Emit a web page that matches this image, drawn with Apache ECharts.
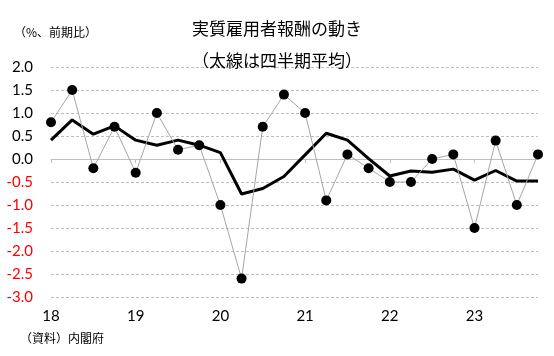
<!DOCTYPE html>
<html><head><meta charset="utf-8">
<script src="https://cdn.jsdelivr.net/npm/echarts@6/dist/echarts.min.js"></script>
<style>html,body{margin:0;padding:0;background:#fff}#c{width:554px;height:356px}</style>
</head><body><div id="c"></div>
<script>
var quarters = ['18Q1','18Q2','18Q3','18Q4','19Q1','19Q2','19Q3','19Q4','20Q1','20Q2','20Q3','20Q4','21Q1','21Q2','21Q3','21Q4','22Q1','22Q2','22Q3','22Q4','23Q1','23Q2','23Q3','23Q4'];
var quarterly = [0.8,1.5,-0.2,0.7,-0.3,1.0,0.2,0.3,-1.0,-2.6,0.7,1.4,1.0,-0.9,0.1,-0.2,-0.5,-0.5,0.0,0.1,-1.5,0.4,-1.0,0.1];
var average = [0.41,0.85,0.54,0.72,0.41,0.30,0.41,0.30,0.14,-0.76,-0.64,-0.38,0.09,0.56,0.41,0.01,-0.37,-0.26,-0.29,-0.22,-0.46,-0.25,-0.48,-0.48];
var yTicks = {min:-3, max:2, interval:0.5};
var titleText = '実質雇用者報酬の動き\n（太線は四半期平均）';
var unitText = '（%、前期比）';
var sourceText = '（資料）内閣府';

var chart = echarts.init(document.getElementById('c'));
var numFont = 'Lato, "Liberation Sans", sans-serif';
var jpFont = '"Noto Sans CJK JP", sans-serif';
chart.setOption({
  animation:false,
  backgroundColor:'#fff',
  title:[
    {text:titleText,left:'center',top:8,textStyle:{fontFamily:jpFont,fontSize:17,fontWeight:'normal',color:'#000',lineHeight:32}},
    {text:unitText,left:9,top:21,textStyle:{fontFamily:jpFont,fontSize:12,fontWeight:'normal',color:'#000'}},
    {text:sourceText,left:15,top:327,textStyle:{fontFamily:jpFont,fontSize:12,fontWeight:'normal',color:'#000'}}
  ],
  grid:{left:51,right:16,top:67,bottom:59,containLabel:false},
  xAxis:[
    {type:'category',data:quarters,boundaryGap:false,position:'bottom',
     axisLine:{show:false,onZero:false},axisTick:{show:false},
     axisLabel:{interval:0,margin:12,fontFamily:numFont,fontSize:15,color:'#000',
       formatter:function(v){return v.slice(2)==='Q1'?v.slice(0,2):'';}},
     splitLine:{show:false}},
    {type:'category',data:quarters,boundaryGap:false,position:'top',
     axisLine:{show:true,onZero:true,lineStyle:{color:'#BFBFBF',width:1}},
     axisTick:{show:true,inside:true,length:4,interval:3,lineStyle:{color:'#BFBFBF'}},
     axisLabel:{show:false},splitLine:{show:false}}
  ],
  yAxis:{type:'value',min:yTicks.min,max:yTicks.max,interval:yTicks.interval,
    axisLine:{show:false},axisTick:{show:false},
    axisLabel:{margin:18,fontFamily:numFont,fontSize:15,
      formatter:function(v){return v.toFixed(1);},
      color:function(v){return Number(v)<0?'#FF0000':'#000';}},
    splitLine:{lineStyle:{color:'#BFBFBF',type:[3,2],width:1}}},
  series:[
    {type:'line',data:quarterly,xAxisIndex:0,symbol:'circle',symbolSize:10,
     lineStyle:{color:'#A6A6A6',width:1},itemStyle:{color:'#000'},z:3},
    {type:'line',data:average,xAxisIndex:0,symbol:'none',
     lineStyle:{color:'#000',width:3},z:2}
  ]
});
</script></body></html>
